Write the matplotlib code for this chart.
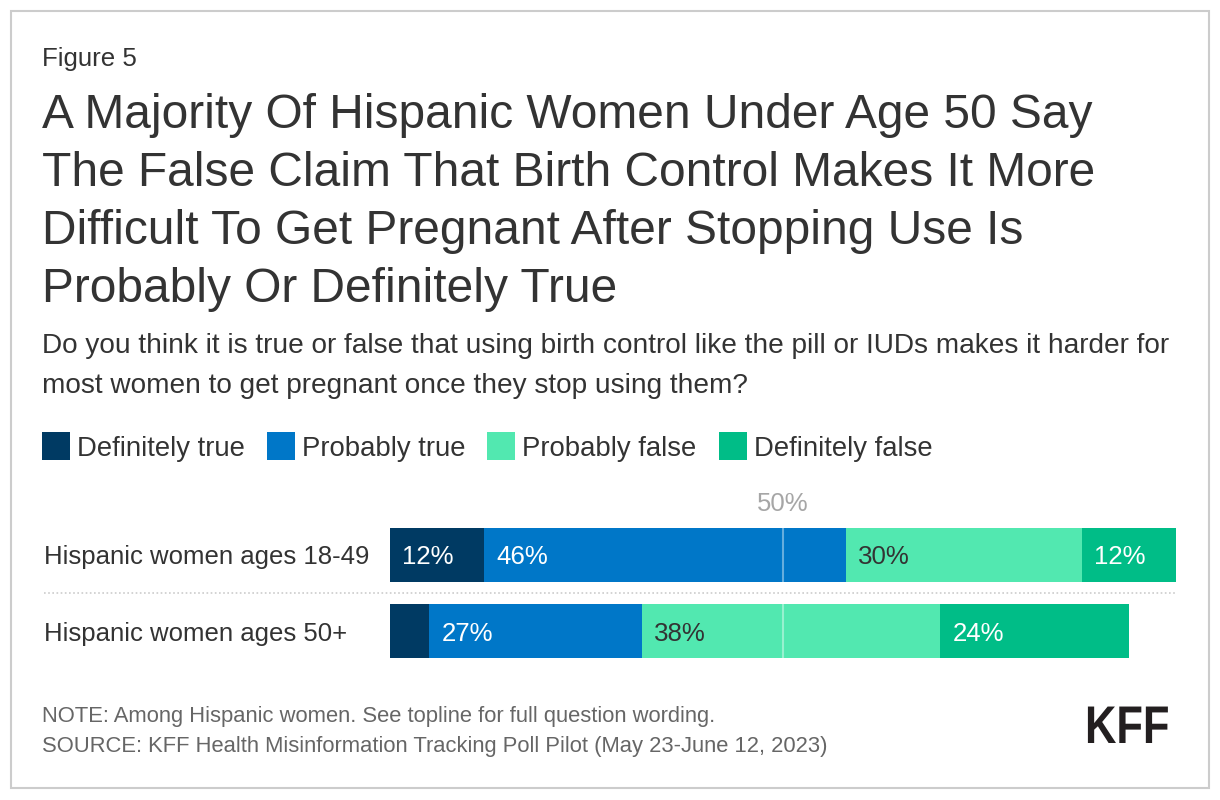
import numpy as np
import matplotlib
matplotlib.use("Agg")
import matplotlib.pyplot as plt
from matplotlib.patches import Rectangle, PathPatch
from matplotlib.textpath import TextPath
from matplotlib.font_manager import FontProperties
from matplotlib.transforms import Affine2D, IdentityTransform

plt.rcParams['font.family'] = ['Liberation Sans', 'DejaVu Sans']

# --- данные ---
groups = ["Hispanic women ages 18-49", "Hispanic women ages 50+"]
answers = ["Definitely true", "Probably true", "Probably false", "Definitely false"]
definitely_true = [12, 5]
probably_true = [46, 27]
probably_false = [30, 38]
definitely_false = [12, 24]
colors = ["#003a63", "#0077c8", "#52e8b0", "#00bd87"]
label_colors = ["white", "white", "#333333", "white"]

title_lines = [
    "A Majority Of Hispanic Women Under Age 50 Say",
    "The False Claim That Birth Control Makes It More",
    "Difficult To Get Pregnant After Stopping Use Is",
    "Probably Or Definitely True",
]
subtitle_lines = [
    "Do you think it is true or false that using birth control like the pill or IUDs makes it harder for",
    "most women to get pregnant once they stop using them?",
]
note = "NOTE: Among Hispanic women. See topline for full question wording."
source = "SOURCE: KFF Health Misinformation Tracking Poll Pilot (May 23-June 12, 2023)"

W, H = 1220, 800
TXT = "#333333"


def fx(px):
    return px / W


def fy(py):
    return 1 - py / H


fig = plt.figure(figsize=(W / 100, H / 100), dpi=100)

# рамка вокруг всей картинки
fig.patches.append(Rectangle((fx(11), fy(788)), fx(1198), 777 / H, transform=fig.transFigure,
                             fill=False, edgecolor="#cccccc", linewidth=1.5))

fig.text(fx(42), fy(66), "Figure 5", fontsize=18.6, color=TXT, va="baseline")
for i, line in enumerate(title_lines):
    fig.text(fx(42), fy(128 + 58 * i), line, fontsize=34.5, color=TXT, va="baseline")
for i, line in enumerate(subtitle_lines):
    fig.text(fx(42), fy(353 + 40 * i), line, fontsize=20.2, color=TXT, va="baseline")

# --- легенда вручную: квадрат + подпись ---
fig.canvas.draw()
renderer = fig.canvas.get_renderer()
x = 42
for name, c in zip(answers, colors):
    fig.patches.append(Rectangle((fx(x), fy(460)), fx(28), 28 / H, transform=fig.transFigure,
                                 facecolor=c, edgecolor="none"))
    t = fig.text(fx(x + 35), fy(456), name, fontsize=19.8, color=TXT, va="baseline")
    x = x + 35 + t.get_window_extent(renderer).width + 22

# --- столбцы ---
ax = fig.add_axes([fx(390), fy(670), fx(786), 155 / H])
data = np.array([definitely_true, probably_true, probably_false, definitely_false])
ypos = np.arange(len(groups))
left = np.zeros(len(groups))
for k in range(len(answers)):
    bars = ax.barh(ypos, data[k], left=left, height=0.71, color=colors[k], edgecolor="none")
    for b, v in zip(bars, data[k]):
        if v >= 8:  # маленькие сегменты без подписи
            ax.annotate(f"{v}%", (b.get_x(), b.get_y() + b.get_height() / 2), xytext=(9, 0),
                        textcoords="offset points", va="center_baseline", ha="left",
                        fontsize=18.6, color=label_colors[k])
    left += data[k]

ax.set_xlim(0, 100)
ax.set_ylim(1.513, -0.526)
ax.axvline(50, color="white", alpha=0.4, linewidth=1.5)
ax.text(50, -0.70, "50%", ha="center", va="center_baseline", fontsize=18.5, color="#a6a6a6",
        clip_on=False)
ax.plot([-0.44, 1.0], [0.5, 0.5], transform=ax.get_yaxis_transform(), clip_on=False,
        color="#cccccc", linestyle=(0, (1, 1.5)), linewidth=1.2)
for i, g in enumerate(groups):
    ax.text(-0.44, i, g, transform=ax.get_yaxis_transform(), ha="left", va="center_baseline",
            fontsize=18.5, color=TXT)
ax.axis("off")

fig.text(fx(42), fy(722), note, fontsize=15.8, color="#666666", va="baseline")
fig.text(fx(42), fy(752), source, fontsize=15.8, color="#666666", va="baseline")

# логотип KFF — узкий жирный шрифт, сжимаем путь по горизонтали
tp = TextPath((0, 0), "KFF", size=53, prop=FontProperties(family="Liberation Sans", weight="bold"))
logo = Affine2D().scale(0.82, 1).translate(1085, H - 743).transform_path(tp)
fig.patches.append(PathPatch(logo, transform=IdentityTransform(), facecolor="#231f20",
                             edgecolor="none"))

fig.savefig("out.png", dpi=100)
